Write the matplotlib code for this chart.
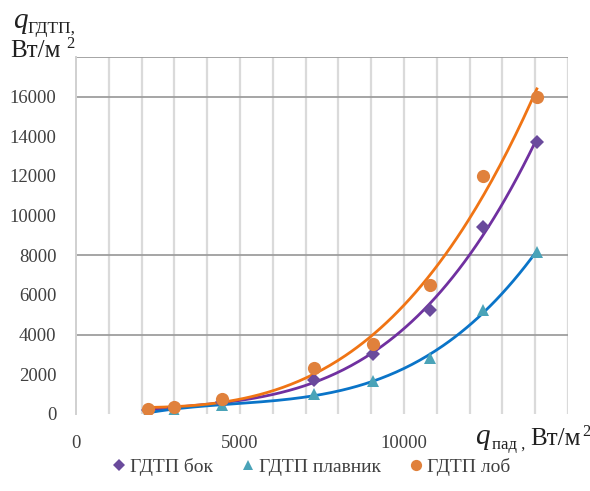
import numpy as np
import matplotlib
matplotlib.use("Agg")
import matplotlib.pyplot as plt
from matplotlib import font_manager as fm


def serif_fp(italic=False, size=12):
    want = 'italic' if italic else 'normal'
    for f in fm.fontManager.ttflist:
        if f.name == 'Liberation Serif' and f.style == want and f.weight in (400, 'normal', 'regular'):
            return fm.FontProperties(fname=f.fname, size=size)
    return fm.FontProperties(family='serif', style=want, size=size)


# Data
q_pad = [2200, 3000, 4450, 7250, 9050, 10800, 12400, 14050]
bok = [200, 300, 600, 1700, 3030, 5250, 9440, 13730]
plavnik = [100, 200, 450, 1000, 1670, 2830, 5250, 8180]
lob = [250, 350, 750, 2300, 3530, 6500, 12000, 16000]

series_names = ['ГДТП бок', 'ГДТП плавник', 'ГДТП лоб']
x_ticks = [0, 5000, 10000]
y_ticks = list(range(0, 16001, 2000))
h_grid = [4000, 8000, 16000, 18000]
v_grid = list(range(1000, 15001, 1000))

W, H = 590, 491
fig = plt.figure(figsize=(W / 100, H / 100), dpi=100)
ax = fig.add_axes([76 / W, 1 - 414 / H, (568 - 76) / W, (414 - 57) / H])
ax.set_xlim(0, 15000)
ax.set_ylim(0, 18000)

for v in v_grid:
    ax.axvline(v, color='#DADADA', lw=1.6, zorder=0)
for h in h_grid:
    ax.axhline(h, color='#9E9E9E', lw=1.3, zorder=0.5)

for s in ['top', 'right', 'bottom']:
    ax.spines[s].set_visible(False)
ax.spines['left'].set_color('#D0D0D0')
ax.spines['left'].set_linewidth(1.4)

styles = [
    (bok, 'D', '#6A4A9C', '#7030A0', 7.5),
    (plavnik, '^', '#4AA3B8', '#0A74C8', 9),
    (lob, 'o', '#E0813C', '#F07414', 9.5),
]
x = np.array(q_pad, dtype=float)
xs = np.linspace(x[0], x[-1], 200)
for (vals, m, mc, lc, ms), name in zip(styles, series_names):
    y = np.array(vals, dtype=float)
    coef = np.polyfit(x, y, 3)
    ax.plot(xs, np.polyval(coef, xs), color=lc, lw=2, zorder=3)
    ax.plot(x, y, linestyle='none', marker=m, color=mc, ms=ms, zorder=4,
            label=name, markeredgewidth=0)

tick_fp = serif_fp(size=13.5)
ax.set_xticks(x_ticks)
ax.set_xticklabels([str(v) for v in x_ticks], fontproperties=tick_fp)
ax.set_yticks(y_ticks)
ax.set_yticklabels([str(v) for v in y_ticks], fontproperties=tick_fp)
ax.tick_params(length=0, colors='#404040')
ax.tick_params(axis='y', pad=14)
ax.tick_params(axis='x', pad=15)


def ftxt(px, py, s, size, italic=False):
    fig.text(px / W, 1 - py / H, s, va='baseline', ha='left',
             fontproperties=serif_fp(italic, size), color='#202020')


ftxt(13, 28, 'q', 21, True)
ftxt(27, 33, 'ГДТП,', 12.5)
ftxt(10, 57, 'Вт/м', 18)
ftxt(66, 48, '2', 12)

ftxt(475, 444, 'q', 21, True)
ftxt(492, 449, 'пад ,', 12)
ftxt(530, 445, 'Вт/м', 18)
ftxt(582, 436, '2', 12)

leg = fig.legend(loc='center', bbox_to_anchor=(0.525, 1 - 467 / H), ncol=3,
                 frameon=False, prop=serif_fp(size=14),
                 handletextpad=0.05, columnspacing=1.3, handlelength=1.0,
                 markerscale=0.85)
for t in leg.get_texts():
    t.set_color('#404040')

fig.savefig('out.png', dpi=100)
